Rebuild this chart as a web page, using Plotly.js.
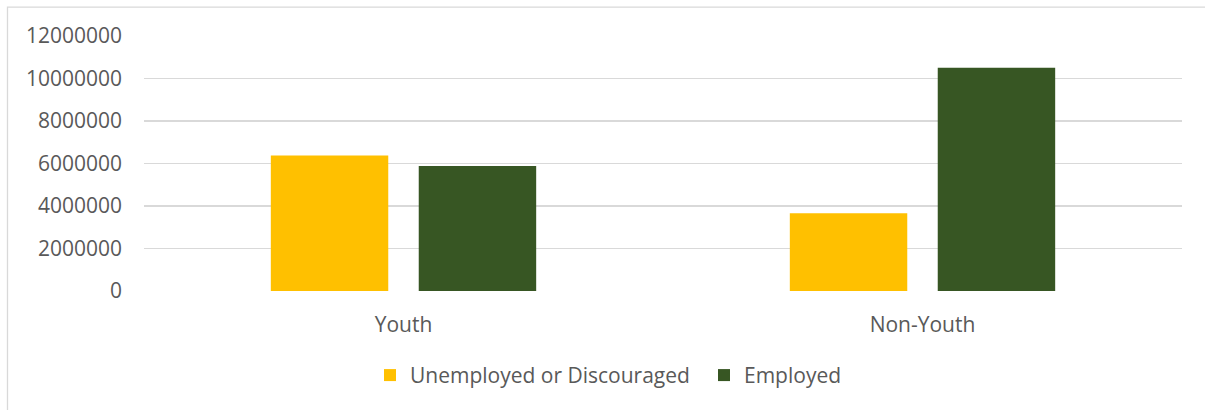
<!DOCTYPE html>
<html>
<head>
<meta charset="utf-8">
<script src="https://cdn.plot.ly/plotly-3.0.1.min.js"></script>
<style>
html,body{margin:0;padding:0;background:#fff;}
#chart{width:1205px;height:410px;}
</style>
</head>
<body>
<div id="chart"></div>
<script>
const categories = ["Youth", "Non-Youth"];
const seriesNames = ["Unemployed or Discouraged", "Employed"];
const unemployed = [6380000, 3660000];
const employed = [5880000, 10510000];
const yTicks = [0, 2000000, 4000000, 6000000, 8000000, 10000000, 12000000];

const FONT = "Open Sans, Liberation Sans, sans-serif";
const TXT = "#595959";

const L = 144, R = 23, T = 35.5, B = 118.7, W = 1205, H = 410;
const pw = W - L - R, ph = H - T - B;
const px2x = p => (p - L) / pw;
const py2y = p => (H - B - p) / ph;

const traces = [
  {type: "bar", name: seriesNames[0], x: categories, y: unemployed,
   marker: {color: "#FFC000"}, hoverinfo: "x+y"},
  {type: "bar", name: seriesNames[1], x: categories, y: employed,
   marker: {color: "#375623"}, hoverinfo: "x+y"}
];

const layout = {
  width: W, height: H,
  margin: {l: L, r: R, t: T, b: B, pad: 0},
  paper_bgcolor: "#fff", plot_bgcolor: "#fff",
  barmode: "group", bargap: 0.43, bargroupgap: 0.206,
  font: {family: FONT, size: 21, color: TXT},
  showlegend: true,
  legend: {orientation: "h", x: px2x(370), xanchor: "left", y: py2y(376), yanchor: "middle",
           entrywidth: 289, entrywidthmode: "pixels",
           font: {family: FONT, size: 21, color: TXT}, traceorder: "normal"},
  xaxis: {type: "category", showgrid: false, zeroline: false, showline: false,
          ticks: "outside", ticklen: 15, tickcolor: "rgba(0,0,0,0)",
          tickfont: {family: FONT, size: 21, color: TXT}, fixedrange: true},
  yaxis: {range: [0, 12000000], tickvals: yTicks, ticktext: yTicks.map(v => String(v)),
          showgrid: true, gridcolor: "#D9D9D9", gridwidth: 1.6, zeroline: false, showline: false,
          ticks: "", ticklabelstandoff: 21,
          tickfont: {family: FONT, size: 21, color: TXT}, fixedrange: true},
  shapes: [
    {type: "rect", xref: "paper", yref: "paper",
     x0: px2x(7.5), x1: px2x(1300), y0: py2y(500), y1: py2y(6.5),
     line: {color: "#D9D9D9", width: 1.3}, fillcolor: "rgba(0,0,0,0)", layer: "below"}
  ]
};

Plotly.newPlot("chart", traces, layout, {displayModeBar: false, staticPlot: true});
</script>
</body>
</html>
